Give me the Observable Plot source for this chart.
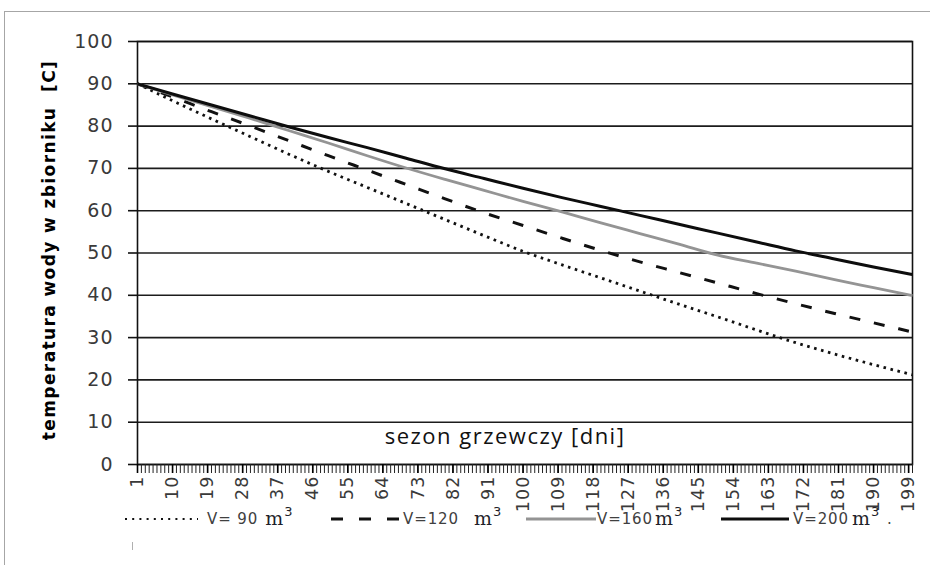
<!DOCTYPE html>
<html>
<head>
<meta charset="utf-8">
<script src="https://cdn.jsdelivr.net/npm/d3@7"></script>
<script src="https://cdn.jsdelivr.net/npm/@observablehq/plot@0.6"></script>
<style>
  body { margin: 0; background: #fff; }
  #wrap { position: relative; width: 930px; height: 565px; overflow: hidden; background: #fff; }
  #wrap > svg.mainplot { position: absolute; left: 0; top: 0; }
  #wrap g[aria-label="y-axis tick label"] text { letter-spacing: 1px; }
  #wrap g[aria-label="x-axis tick label"] text { letter-spacing: 1.1px; }
  .border-top { position: absolute; left: 4px; top: 11px; width: 926px; height: 0; border-top: 1.5px solid #a6a6a6; }
  .border-left { position: absolute; left: 4px; top: 11px; width: 0; height: 560px; border-left: 1.5px solid #a6a6a6; }
  .leg { position: absolute; display: flex; align-items: center; height: 24px; font-family: "DejaVu Sans", sans-serif; font-size: 15px; color: #404040; white-space: pre; }
  .leg svg { display: block; flex: none; }
  .leg .lab { letter-spacing: 0.9px; }
  .leg .m { font-family: "DejaVu Serif", serif; font-size: 19px; color: #1f1f2a; position: relative; top: -1px; }
  .leg .sup { font-family: "DejaVu Sans", sans-serif; font-size: 13px; color: #1f1f2a; position: relative; top: -8px; margin-left: 1px; }
</style>
</head>
<body>
<div id="wrap"></div>
<script>
// ---- data ----
const days = [1, 10, 20, 30, 40, 50, 60, 70, 80, 90, 100, 110, 120, 130, 140, 150, 160, 170, 180, 190, 200];
const tempV90  = [90, 86.0, 81.7, 77.5, 73.3, 69.3, 65.5, 61.7, 57.9, 54.1, 50.4, 47.2, 44.1, 41.0, 37.9, 34.9, 31.8, 28.8, 26.1, 23.6, 21.2];
const tempV120 = [90, 86.9, 83.4, 80.0, 76.5, 73.0, 69.6, 66.2, 62.8, 59.5, 56.5, 53.5, 50.6, 47.9, 45.4, 42.9, 40.4, 38.0, 35.7, 33.5, 31.3];
const tempV160 = [90, 87.4, 84.6, 81.8, 78.9, 76.0, 73.0, 70.1, 67.4, 64.8, 62.2, 59.7, 57.1, 54.6, 52.1, 49.5, 47.6, 45.7, 43.7, 41.8, 39.9];
const tempV200 = [90, 87.6, 85.0, 82.4, 79.8, 77.3, 74.9, 72.4, 69.9, 67.6, 65.3, 63.1, 61.0, 58.9, 56.8, 54.7, 52.6, 50.5, 48.6, 46.7, 44.9];
const seriesNames = ["V= 90", "V=120", "V=160", "V=200"];
const xTickLabels = [1, 10, 19, 28, 37, 46, 55, 64, 73, 82, 91, 100, 109, 118, 127, 136, 145, 154, 163, 172, 181, 190, 199];
const xMinorTicks = d3.range(1, 201);
const yTicks = [0, 10, 20, 30, 40, 50, 60, 70, 80, 90, 100];
const yTitle = "temperatura wody w zbiorniku\u00a0 [C]";
const xTitle = "sezon grzewczy [dni]";

// ---- styles ----
const seriesValues = [tempV90, tempV120, tempV160, tempV200];
const seriesStyle = [
  {stroke: "#111", strokeWidth: 2.8, strokeDasharray: "2.6,4.6"},
  {stroke: "#111", strokeWidth: 3, strokeDasharray: "11,14"},
  {stroke: "#949494", strokeWidth: 2.8},
  {stroke: "#0d0d0d", strokeWidth: 3}
];

const table = [];
seriesNames.forEach((name, i) => days.forEach((d, j) => table.push({series: name, day: d, temp: seriesValues[i][j]})));

const plot = Plot.plot({
  width: 930,
  height: 565,
  marginLeft: 137,
  marginRight: 18,
  marginTop: 41,
  marginBottom: 101,
  className: "mainplot",
  style: {fontFamily: "DejaVu Sans, sans-serif", background: "transparent"},
  x: {domain: [1, 200]},
  y: {domain: [0, 100]},
  marks: [
    Plot.ruleY(yTicks, {stroke: "#1c1c1c", strokeWidth: 1.6}),
    Plot.frame({stroke: "#111", strokeWidth: 1.6}),
    Plot.axisX({ticks: xMinorTicks, tickSize: 9, tickFormat: () => "", stroke: "#222", strokeWidth: 1, label: null}),
    Plot.axisX({ticks: xTickLabels, tickSize: 9, tickPadding: 2, tickRotate: -90, fontSize: 17.5, fill: "#3a3a3a", stroke: "#000", strokeWidth: 1.6, label: null}),
    Plot.axisY({ticks: yTicks, tickSize: 9, tickPadding: 15, fontSize: 19, fill: "#3a3a3a", stroke: "#111", strokeWidth: 1.6, label: null}),
    ...seriesNames.map((name, i) => Plot.line(table.filter(r => r.series === name), {
      x: "day", y: "temp", curve: "monotone-x", strokeLinecap: "butt", strokeLinejoin: "round", ...seriesStyle[i]
    })),
    Plot.text([xTitle], {frameAnchor: "bottom", lineAnchor: "middle", dy: -28, dx: -20, fontSize: 22, fill: "#111", fontFamily: "Open Sans, sans-serif"}),
    Plot.text([yTitle], {frameAnchor: "left", textAnchor: "middle", rotate: -90, dx: -88, dy: -3, fontSize: 17, fontWeight: "bold", fill: "#000", fontFamily: "DejaVu Sans, sans-serif"})
  ]
});

const wrap = document.getElementById("wrap");
wrap.appendChild(plot);
plot.classList.add("mainplot");
plot.querySelectorAll("text").forEach(t => {
  if (t.textContent === xTitle) t.style.letterSpacing = "1.5px";
  if (t.textContent === yTitle) t.style.letterSpacing = "1.4px";
});

// outer chart-area border (top and left visible in the reference)
const bt = document.createElement("div"); bt.className = "border-top"; wrap.appendChild(bt);
const bl = document.createElement("div"); bl.className = "border-left"; wrap.appendChild(bl);

// ---- legend ----
const legendLeft = [125, 331, 526, 721];
const sampleW = [73, 68, 70, 68];
const gapAfterSample = [9, 4, 1, 4];
const mGap = [7, 15, 2, 3];
const legTop = 507;
seriesNames.forEach((name, i) => {
  const item = document.createElement("div");
  item.className = "leg";
  item.style.left = legendLeft[i] + "px";
  item.style.top = legTop + "px";
  const s = seriesStyle[i];
  const svg = d3.create("svg").attr("width", sampleW[i]).attr("height", 10).style("margin-right", gapAfterSample[i] + "px");
  svg.append("line").attr("x1", 0).attr("x2", sampleW[i]).attr("y1", 5).attr("y2", 5)
    .attr("stroke", s.stroke).attr("stroke-width", i === 0 ? 2.2 : s.strokeWidth)
    .attr("stroke-dasharray", i === 0 ? "2,5.2" : (i === 1 ? "12,16" : null));
  item.appendChild(svg.node());
  const lab = document.createElement("span"); lab.className = "lab"; lab.textContent = name; item.appendChild(lab);
  const m = document.createElement("span"); m.className = "m"; m.textContent = "m"; m.style.marginLeft = mGap[i] + "px"; item.appendChild(m);
  const sup = document.createElement("span"); sup.className = "sup"; sup.textContent = "3"; item.appendChild(sup);
  if (i === 3) { const dot = document.createElement("span"); dot.textContent = " ."; dot.style.marginLeft = "3px"; item.appendChild(dot); }
  wrap.appendChild(item);
});
// small stray mark under the first legend entry
const stub = document.createElement("div");
stub.style.cssText = "position:absolute;left:132px;top:542px;width:1px;height:8px;background:#b0b0b0;";
wrap.appendChild(stub);
</script>
</body>
</html>
